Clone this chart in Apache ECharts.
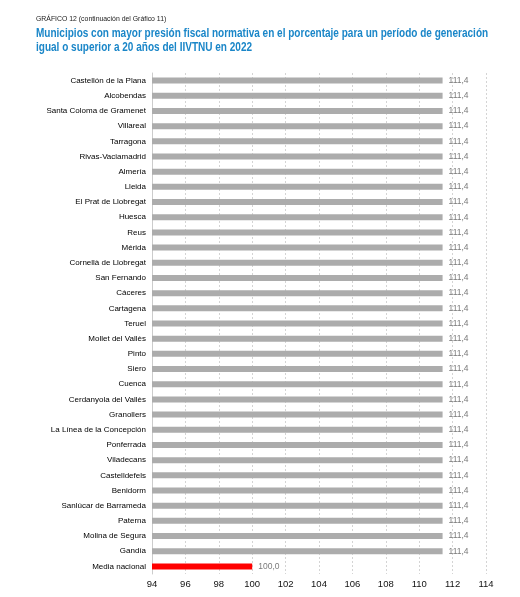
<!DOCTYPE html>
<html>
<head>
<meta charset="utf-8">
<script src="https://cdn.jsdelivr.net/npm/echarts@6/dist/echarts.min.js"></script>
<style>
  html, body { margin: 0; padding: 0; background: #fff; }
  #chart { width: 520px; height: 597px; }
</style>
</head>
<body>
<div id="chart"></div>
<script>
// categorias de arriba abajo
var municipios = [
  'Castellón de la Plana', 'Alcobendas', 'Santa Coloma de Gramenet', 'Villareal',
  'Tarragona', 'Rivas-Vaciamadrid', 'Almería', 'Lleida', 'El Prat de Llobregat',
  'Huesca', 'Reus', 'Mérida', 'Cornellà de Llobregat', 'San Fernando', 'Cáceres',
  'Cartagena', 'Teruel', 'Mollet del Vallès', 'Pinto', 'Siero', 'Cuenca',
  'Cerdanyola del Vallès', 'Granollers', 'La Línea de la Concepción', 'Ponferrada',
  'Viladecans', 'Castelldefels', 'Benidorm', 'Sanlúcar de Barrameda', 'Paterna',
  'Molina de Segura', 'Gandía', 'Media nacional'
];
var valores = [
  111.4, 111.4, 111.4, 111.4, 111.4, 111.4, 111.4, 111.4, 111.4, 111.4,
  111.4, 111.4, 111.4, 111.4, 111.4, 111.4, 111.4, 111.4, 111.4, 111.4,
  111.4, 111.4, 111.4, 111.4, 111.4, 111.4, 111.4, 111.4, 111.4, 111.4,
  111.4, 111.4, 100.0
];
var ejeMin = 94, ejeMax = 114, ejeIntervalo = 2;

var FONT = '"Liberation Sans Narrow", "Liberation Sans", sans-serif';

var myChart = echarts.init(document.getElementById('chart'));
myChart.setOption({
  animation: false,
  textStyle: { fontFamily: FONT },
  graphic: [
    {
      type: 'text', x: 36, y: 15, scaleX: 0.86,
      style: {
        text: 'GRÁFICO 12 (continuación del Gráfico 11)',
        font: '8px ' + FONT, fill: '#1a1a1a'
      }
    },
    {
      // el original usa una letra estrecha: se comprime en horizontal
      type: 'text', x: 36, y: 26, scaleX: 0.835,
      style: {
        text: 'Municipios con mayor presión fiscal normativa en el porcentaje para un período de generación\nigual o superior a 20 años del IIVTNU en 2022',
        font: 'bold 12px ' + FONT, fill: '#1a86c8', lineHeight: 14.5
      }
    }
  ],
  grid: { left: 152, right: 34, top: 73, bottom: 23 },
  xAxis: {
    type: 'value',
    min: ejeMin, max: ejeMax, interval: ejeIntervalo,
    axisLine: { show: false },
    axisTick: { show: false },
    axisLabel: { color: '#111', fontSize: 9.5, fontFamily: FONT, margin: 5 },
    splitLine: { show: true, lineStyle: { color: '#d4d4d4', type: [2, 2], width: 1 } }
  },
  yAxis: {
    type: 'category',
    inverse: true,
    data: municipios,
    axisLine: { show: true, lineStyle: { color: '#cccccc', width: 1 } },
    axisTick: { show: false },
    axisLabel: { color: '#000', fontSize: 8, fontFamily: FONT, margin: 6 }
  },
  series: [{
    type: 'bar',
    barWidth: 6,
    data: valores.map(function (v, i) {
      return {
        value: v,
        itemStyle: { color: i === valores.length - 1 ? '#ff0000' : '#acacac' }
      };
    }),
    label: {
      show: true,
      position: 'right',
      distance: 6,
      color: '#7a7a7a',
      fontSize: 8.5,
      fontFamily: FONT,
      formatter: function (p) { return p.value.toFixed(1).replace('.', ','); }
    }
  }]
});
</script>
</body>
</html>
